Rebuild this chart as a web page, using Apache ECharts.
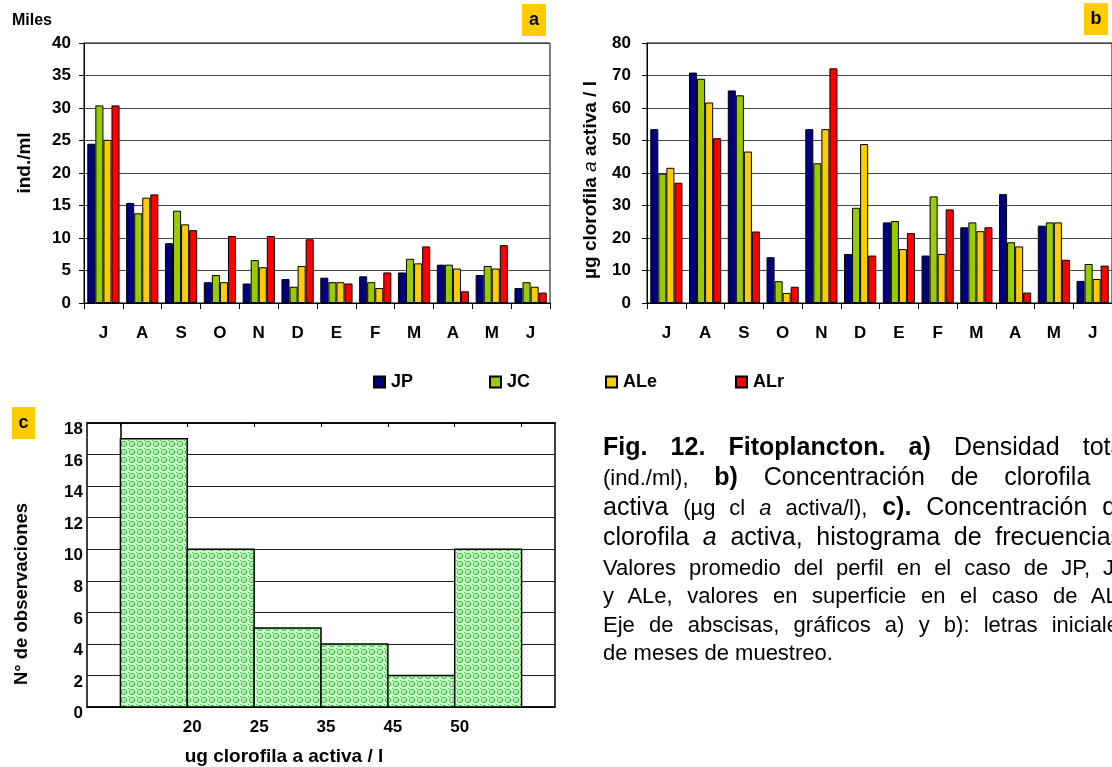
<!DOCTYPE html>
<html>
<head>
<meta charset="utf-8">
<script src="https://cdn.jsdelivr.net/npm/echarts@6/dist/echarts.min.js"></script>
<style>
  html, body { margin: 0; padding: 0; background: #fff; overflow: hidden; }
  #wrap { position: relative; width: 1112px; height: 767px; overflow: hidden; }
  #chart { position: absolute; left: 0; top: 0; width: 1112px; height: 767px; }
  .cap { position: absolute; left: 603px; width: 527px; white-space: nowrap; color: #000;
         font-family: "Liberation Sans", Arial, sans-serif; text-align: justify; text-align-last: justify; }
  .cap.big { font-size: 25px; line-height: 30px; }
  .cap.sm { font-size: 22px; line-height: 29px; }
  .cap.left { text-align: left; text-align-last: left; }
  .cap .p { font-size: 22px; }
</style>
</head>
<body>
<div id="wrap">
  <div id="chart"></div>
  <div class="cap big" style="top:431px"><b>Fig. 12. Fitoplancton. a)</b> Densidad total</div>
  <div class="cap big" style="top:461px"><span class="p">(ind./ml),</span> <b>b)</b> Concentración de clorofila <i>a</i></div>
  <div class="cap big" style="top:491px">activa <span class="p">(µg cl <i>a</i> activa/l),</span> <b>c).</b> Concentración de</div>
  <div class="cap big" style="top:521px">clorofila <i>a</i> activa, histograma de frecuencias.</div>
  <div class="cap sm" style="top:553px">Valores promedio del perfil en el caso de JP, JC</div>
  <div class="cap sm" style="top:581px">y ALe, valores en superficie en el caso de ALr.</div>
  <div class="cap sm" style="top:610px">Eje de abscisas, gráficos a) y b): letras iniciales</div>
  <div class="cap sm left" style="top:638px">de meses de muestreo.</div>
</div>
<script>
// ---- data ----
const months = ['J','A','S','O','N','D','E','F','M','A','M','J'];
const seriesNames = ['JP','JC','ALe','ALr'];
const seriesColors = ['#000080','#99CC00','#FFCC00','#FF0000'];

// a) density (thousands ind./ml)
const densJP  = [24.5, 15.4,  9.2, 3.2, 3.0, 3.7, 3.9, 4.1, 4.7, 5.9, 4.3, 2.3];
const densJC  = [30.4, 13.8, 14.2, 4.3, 6.6, 2.5, 3.2, 3.2, 6.8, 5.9, 5.7, 3.2];
const densALe = [25.1, 16.2, 12.1, 3.2, 5.5, 5.7, 3.2, 2.3, 6.1, 5.3, 5.3, 2.5];
const densALr = [30.4, 16.7, 11.2,10.3,10.3, 9.8, 3.0, 4.7, 8.7, 1.8, 8.9, 1.6];

// b) chlorophyll a (µg/l)
const chlJP  = [53.5, 70.9, 65.4, 14.1, 53.5, 15.1, 24.8, 14.6, 23.3, 33.5, 23.8,  6.8];
const chlJC  = [39.8, 69.0, 63.9,  6.7, 43.0, 29.3, 25.2, 32.8, 24.8, 18.7, 24.8, 12.0];
const chlALe = [41.6, 61.7, 46.6,  3.1, 53.5, 48.9, 16.6, 15.1, 22.1, 17.4, 24.8,  7.4];
const chlALr = [37.0, 50.7, 22.0,  5.0, 72.2, 14.6, 21.5, 28.8, 23.3,  3.2, 13.3, 11.5];

// c) histogram
const histLabels = ['20','25','35','45','50'];
const histCounts = [17, 10, 5, 4, 2, 10];

const yTicksA = { min: 0, max: 40, interval: 5 };
const yTicksB = { min: 0, max: 80, interval: 10 };
const yTicksC = { min: 0, max: 18, interval: 2 };

// ---- styling helpers ----
const FONT = '"Liberation Sans", Arial, sans-serif';
const axisLbl = { color: '#000', fontFamily: FONT, fontWeight: 'bold', fontSize: 17 };

function makePattern() {
  const c = document.createElement('canvas');
  c.width = 8; c.height = 8;
  const g = c.getContext('2d');
  g.fillStyle = '#d4f8d4'; g.fillRect(0, 0, 8, 8);
  g.strokeStyle = '#22c522'; g.lineWidth = 1;
  g.beginPath(); g.arc(4, 4, 2.6, 0, Math.PI * 2); g.stroke();
  g.fillStyle = '#22c522';
  g.fillRect(0, 0, 1, 1); g.fillRect(4, 4, 1, 1);
  return c;
}
const pattern = { image: makePattern(), repeat: 'repeat' };

function catAxis(gridIndex) {
  return {
    type: 'category', gridIndex, data: months,
    axisLine: { lineStyle: { color: '#000', width: 1 } },
    axisTick: { show: true, length: 6, lineStyle: { color: '#000' } },
    axisLabel: Object.assign({ margin: 22 }, axisLbl),
    splitLine: { show: false }
  };
}
function valAxis(gridIndex, t, margin) {
  return {
    type: 'value', gridIndex, min: t.min, max: t.max, interval: t.interval,
    axisLine: { show: true, lineStyle: { color: '#000', width: 1 } },
    axisTick: { show: true, length: 5, lineStyle: { color: '#000' } },
    axisLabel: Object.assign({ margin }, axisLbl),
    splitLine: { show: true, lineStyle: { color: '#444', width: 1 } }
  };
}
function barSeries(name, data, color, idx) {
  return {
    type: 'bar', name, data, xAxisIndex: idx, yAxisIndex: idx,
    barGap: '0%', barCategoryGap: '17%',
    itemStyle: { color, borderColor: '#000', borderWidth: 1 },
    animation: false
  };
}
const densData = [densJP, densJC, densALe, densALr];
const chlData = [chlJP, chlJC, chlALe, chlALr];

const legendLefts = [373, 489, 605, 735];

function badge(x, y, w, h, letter) {
  return [
    { type: 'rect', shape: { x, y, width: w, height: h }, style: { fill: '#FFCC00' } },
    { type: 'text', x: x + w / 2, y: y + h / 2,
      style: { text: letter, fill: '#000', font: 'bold 18px ' + FONT, align: 'center', verticalAlign: 'middle' } }
  ];
}

const option = {
  animation: false,
  backgroundColor: '#fff',
  grid: [
    { left: 84, right: 562, top: 43, bottom: 464, show: true, borderColor: '#000', borderWidth: 1 },
    { left: 647, right: -2, top: 43, bottom: 464, show: true, borderColor: '#000', borderWidth: 1 },
    { left: 87, right: 557, top: 423, bottom: 60, show: true, borderColor: '#000', borderWidth: 1.5 }
  ],
  legend: seriesNames.map((n, i) => ({
    data: [n], left: legendLefts[i], top: 373, orient: 'horizontal', padding: 0,
    icon: 'rect', itemWidth: 11, itemHeight: 11, itemGap: 0,
    textStyle: { color: '#000', fontFamily: FONT, fontWeight: 'bold', fontSize: 18, padding: [0, 0, 0, 1] },
    selectedMode: false
  })),
  xAxis: [
    catAxis(0),
    catAxis(1),
    {
      type: 'value', gridIndex: 2, min: -0.5, max: 6.5,
      axisLine: { show: true, lineStyle: { color: '#000', width: 1.5 } },
      axisTick: { show: false },
      splitLine: { show: false },
      axisLabel: Object.assign({
        margin: 12, customValues: [1, 2, 3, 4, 5], padding: [0, 0, 0, 10],
        formatter: v => histLabels[Math.round(v) - 1] || ''
      }, axisLbl)
    },
    {
      type: 'value', gridIndex: 2, min: -0.5, max: 6.5, position: 'top',
      axisLine: { show: true, lineStyle: { color: '#000', width: 1.5 } },
      axisTick: { show: true, inside: true, length: 4, customValues: [0, 1, 2, 3, 4, 5, 6], lineStyle: { color: '#000' } },
      axisLabel: { show: false },
      splitLine: { show: false }
    }
  ],
  yAxis: [
    valAxis(0, yTicksA, 13),
    valAxis(1, yTicksB, 16),
    Object.assign(valAxis(2, yTicksC, 4), {
      axisTick: { show: false },
      axisLine: { show: true, lineStyle: { color: '#000', width: 1.5 } },
      axisLabel: Object.assign({ margin: 4, verticalAlign: 'top', lineHeight: 13 }, axisLbl),
      splitLine: { show: true, lineStyle: { color: '#222', width: 1.2 } }
    })
  ],
  series: [
    ...seriesNames.map((n, i) => barSeries(n, densData[i], seriesColors[i], 0)),
    ...seriesNames.map((n, i) => barSeries(n, chlData[i], seriesColors[i], 1)),
    {
      type: 'custom', name: 'hist', xAxisIndex: 2, yAxisIndex: 2,
      data: histCounts.map((c, i) => [i, c]),
      encode: { x: 0, y: 1 },
      renderItem: function (params, api) {
        const i = api.value(0), v = api.value(1);
        const p0 = api.coord([i, v]);
        const p1 = api.coord([i + 1, 0]);
        return {
          type: 'rect',
          shape: { x: p0[0], y: p0[1], width: p1[0] - p0[0], height: p1[1] - p0[1] },
          style: { fill: pattern, stroke: '#000', lineWidth: 1.5 }
        };
      },
      animation: false
    }
  ],
  graphic: [
    { type: 'text', left: 12, top: 13, style: { text: 'Miles', fill: '#000', font: 'bold 16px ' + FONT } },
    { type: 'text', x: 25, y: 163, rotation: Math.PI / 2,
      style: { text: 'ind./ml', fill: '#000', font: 'bold 19px ' + FONT, align: 'center', verticalAlign: 'middle' } },
    { type: 'text', x: 591, y: 180, rotation: Math.PI / 2,
      style: { text: 'µg clorofila {i|a} activa / l', fill: '#000', font: 'bold 19px ' + FONT, align: 'center', verticalAlign: 'middle',
        rich: { i: { fontStyle: 'italic', fontWeight: 'normal', fontSize: 19, fontFamily: FONT, fill: '#000' } } } },
    { type: 'text', x: 22, y: 594, rotation: Math.PI / 2,
      style: { text: 'N° de observaciones', fill: '#000', font: 'bold 18.5px ' + FONT, align: 'center', verticalAlign: 'middle' } },
    { type: 'text', x: 284, y: 757,
      style: { text: 'ug clorofila a activa / l', fill: '#000', font: 'bold 19px ' + FONT, align: 'center', verticalAlign: 'middle' } },
    ...badge(522, 4, 24, 32, 'a'),
    ...badge(1084, 3, 24, 32, 'b'),
    ...badge(12, 407, 23, 32, 'c')
  ]
};

const chart = echarts.init(document.getElementById('chart'), null, { renderer: 'canvas' });
chart.setOption(option);
</script>
</body>
</html>
